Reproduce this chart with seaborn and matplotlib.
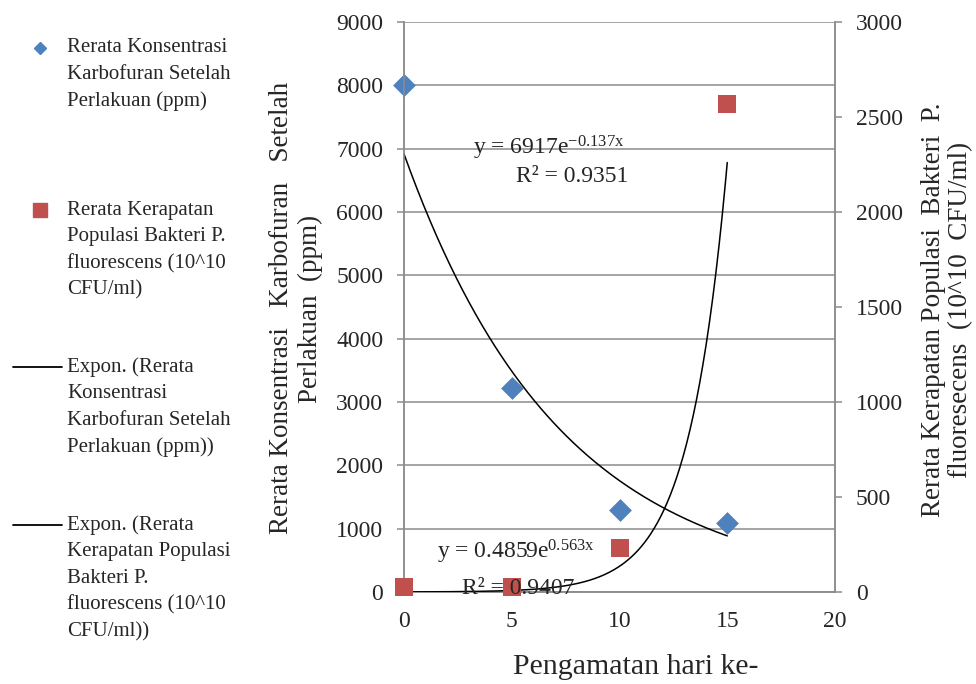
import numpy as np
import pandas as pd
import seaborn as sns
import matplotlib.pyplot as plt
from matplotlib.lines import Line2D

# data
hari = [0, 5, 10, 15]
karbofuran = [8000, 3220, 1300, 1090]      # ppm, left axis
bakteri = [26, 24, 231, 2568]              # 10^10 CFU/ml, right axis

# Excel exponential trendlines shown on the chart
a_karbo, b_karbo = 6917, -0.137
a_bakt, b_bakt = 0.4859, 0.563

blue = "#4F81BD"
red = "#C0504D"
grid_c = "#8C8C8C"

sns.set_style("white")
plt.rcParams['font.family'] = ['Liberation Serif', 'DejaVu Serif']
plt.rcParams['mathtext.fontset'] = 'custom'
plt.rcParams['mathtext.rm'] = 'Liberation Serif'
plt.rcParams['mathtext.it'] = 'Liberation Serif'

fig = plt.figure(figsize=(9.76, 6.84), dpi=100)
ax = fig.add_axes([404/976, 1-592/684, 431/976, 570/684])
ax2 = ax.twinx()

df = pd.DataFrame({"hari": hari, "karbo": karbofuran, "bakt": bakteri})
xs = np.linspace(0, 15, 200)
trend = pd.DataFrame({"x": xs,
                      "k": a_karbo*np.exp(b_karbo*xs),
                      "b": a_bakt*np.exp(b_bakt*xs)})

sns.scatterplot(data=df, x="hari", y="karbo", ax=ax, marker="D", s=135,
                color=blue, edgecolor=blue, linewidth=0, clip_on=False, zorder=5)
sns.lineplot(data=trend, x="x", y="k", ax=ax, color="black", lw=1.1, zorder=4)
sns.scatterplot(data=df, x="hari", y="bakt", ax=ax2, marker="s", s=175,
                color=red, edgecolor=red, linewidth=0, clip_on=False, zorder=5)
sns.lineplot(data=trend, x="x", y="b", ax=ax2, color="black", lw=1.1, zorder=4)

ax.set_xlim(0, 20)
ax.set_ylim(0, 9000)
ax2.set_ylim(0, 3000)
ax.set_xticks(range(0, 21, 5))
ax.set_yticks(range(0, 9001, 1000))
ax2.set_yticks(range(0, 3001, 500))
ax.grid(axis="y", color=grid_c, lw=1.1)
ax.set_axisbelow(True)

for a in (ax, ax2):
    for s in a.spines.values():
        s.set_color(grid_c)
        s.set_linewidth(1.1)
    a.spines["top"].set_visible(False)
    a.tick_params(axis="both", direction="out", length=5, width=1.1,
                  color=grid_c, labelsize=17, pad=10)
ax.tick_params(axis="x", labelsize=17, pad=9)
ax.set_xlabel("")
ax.set_ylabel("")
ax2.set_ylabel("")

# trendline equations (drawn on the top axes so they sit over the markers)
ax2.text(3.2, 7010, r"y = 6917e$^{\mathrm{-0.137x}}$", fontsize=17, ha="left", va="center",
         transform=ax.transData, zorder=7)
ax2.text(5.2, 6560, "R² = 0.9351", fontsize=17, ha="left", va="center",
         transform=ax.transData, zorder=7)
ax2.text(1.53, 640, r"y = 0.4859e$^{\mathrm{0.563x}}$", fontsize=17, ha="left", va="center",
         transform=ax.transData, zorder=7)
ax2.text(2.69, 60, "R² = 0.9407", fontsize=17, ha="left", va="center",
         transform=ax.transData, zorder=7)

# axis titles
fig.text(636/976, 1-667/684, "Pengamatan hari ke-", fontsize=21.5, ha="center", va="center")
fig.text(281/976, 1-308/684, "Rerata Konsentrasi   Karbofuran   Setelah",
         fontsize=19.5, rotation=90, ha="center", va="center")
fig.text(310/976, 1-309/684, "Perlakuan  (ppm)",
         fontsize=19.5, rotation=90, ha="center", va="center")
fig.text(933/976, 1-310/684, "Rerata Kerapatan Populasi  Bakteri  P.",
         fontsize=19.5, rotation=90, ha="center", va="center")
fig.text(961/976, 1-310/684, "fluoresecens  (10^10  CFU/ml)",
         fontsize=19.5, rotation=90, ha="center", va="center")

# legend, Excel style on the left
legend_items = [
    (["Rerata Konsentrasi", "Karbofuran Setelah", "Perlakuan (ppm)"], 48,
     dict(marker="D", color=blue, markersize=6, ls="none")),
    (["Rerata Kerapatan", "Populasi Bakteri P.", "fluorescens (10^10", "CFU/ml)"], 210,
     dict(marker="s", color=red, markersize=10, ls="none")),
    (["Expon. (Rerata", "Konsentrasi", "Karbofuran Setelah", "Perlakuan (ppm))"], 367,
     dict(color="black", lw=1.3)),
    (["Expon. (Rerata", "Kerapatan Populasi", "Bakteri P.", "fluorescens (10^10", "CFU/ml))"], 525,
     dict(color="black", lw=1.3)),
]
for lines, y0, style in legend_items:
    if style.get("ls") == "none":
        fig.add_artist(Line2D([40/976], [1-y0/684], transform=fig.transFigure, **style))
    else:
        fig.add_artist(Line2D([13/976, 62/976], [1-y0/684]*2, transform=fig.transFigure, **style))
    for i, t in enumerate(lines):
        fig.text(67/976, 1-(y0+26.7*i)/684, t, fontsize=15, ha="left", va="center")

fig.savefig("out.png", dpi=100)
